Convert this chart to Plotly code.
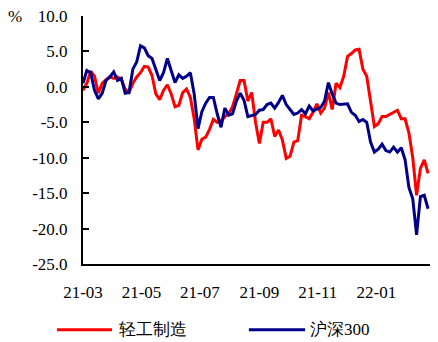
import plotly.graph_objects as go

dates = [
    "2021-03-01","2021-03-05","2021-03-09","2021-03-13","2021-03-17","2021-03-21","2021-03-25","2021-03-29",
    "2021-04-02","2021-04-06","2021-04-10","2021-04-14","2021-04-18","2021-04-22","2021-04-26","2021-04-30",
    "2021-05-04","2021-05-08","2021-05-12","2021-05-16","2021-05-20","2021-05-24","2021-05-28",
    "2021-06-01","2021-06-05","2021-06-09","2021-06-13","2021-06-17","2021-06-21","2021-06-25","2021-06-29",
    "2021-07-03","2021-07-07","2021-07-11","2021-07-15","2021-07-19","2021-07-23","2021-07-27","2021-07-31",
    "2021-08-04","2021-08-08","2021-08-12","2021-08-16","2021-08-20","2021-08-24","2021-08-28",
    "2021-09-01","2021-09-05","2021-09-09","2021-09-13","2021-09-17","2021-09-21","2021-09-25","2021-09-29",
    "2021-10-03","2021-10-07","2021-10-11","2021-10-15","2021-10-19","2021-10-23","2021-10-27","2021-10-31",
    "2021-11-04","2021-11-08","2021-11-12","2021-11-16","2021-11-20","2021-11-24","2021-11-28",
    "2021-12-02","2021-12-06","2021-12-10","2021-12-14","2021-12-18","2021-12-22","2021-12-26","2021-12-30",
    "2022-01-03","2022-01-07","2022-01-11","2022-01-15","2022-01-19","2022-01-23","2022-01-27","2022-01-31",
    "2022-02-04","2022-02-08","2022-02-12","2022-02-16","2022-02-20","2022-02-24",
]

light_industry = [
    -0.5, 0.5, 2.2, 1.5, -0.9, 0.5, 1.0, 1.4,
    1.2, 1.4, 1.0, -0.3, -0.8, 0.5, 1.4, 2.0,
    2.9, 2.8, 1.6, -1.0, -1.8, -0.5, 0.3,
    -1.0, -2.8, -2.6, -0.8, -0.3, -1.5, -4.5, -8.9,
    -7.4, -7.1, -6.0, -4.6, -5.0, -4.8, -4.2, -3.8,
    -2.8, -1.0, 0.9, 0.9, -2.0, -0.8, -5.0,
    -8.0, -5.0, -5.0, -4.5, -7.0, -6.1, -7.5, -10.1,
    -9.8, -7.8, -7.6, -4.0, -4.2, -4.5, -3.6, -2.4,
    -3.7, -3.0, -0.8, -3.2, 0.5, -0.1, 1.5,
    4.3, 4.7, 5.2, 5.3, 2.5, 1.5, -2.0, -5.6,
    -5.2, -4.2, -4.2, -3.9, -3.5, -3.3, -4.5, -4.5,
    -6.5, -10.0, -15.3, -11.5, -10.3, -12.2,
]

csi300 = [
    0.5, 2.3, 2.0, -0.5, -1.7, -0.9, 0.9, 1.4,
    2.1, 0.9, 1.2, -0.9, -0.8, 2.5, 3.5, 5.8,
    5.5, 4.4, 4.0, 2.5, 0.9, 2.0, 4.0,
    2.3, 0.6, 1.7, 1.2, 1.5, 2.0, -1.0, -5.9,
    -3.5, -2.3, -1.5, -1.5, -3.8, -5.7, -3.0, -4.0,
    -3.8, -2.0, -0.9, -1.9, -4.2, -4.1, -3.9,
    -3.3, -3.2, -2.5, -2.3, -3.0, -2.2, -1.2, -2.5,
    -3.2, -3.9, -3.7, -3.2, -3.8, -2.7, -3.4, -3.2,
    -2.9, -2.0, 0.6, -1.0, -2.3, -2.5, -2.5,
    -2.4, -3.6, -4.0, -4.9, -4.6, -5.0, -7.8, -9.2,
    -8.8, -8.1, -9.0, -9.2, -8.5, -9.2, -8.6, -10.3,
    -14.2, -15.8, -20.9, -15.5, -15.3, -17.2,
]

series_names = ["轻工制造", "沪深300"]
x_tick_dates = ["2021-03-01", "2021-05-01", "2021-07-01", "2021-09-01", "2021-11-01", "2022-01-01"]
x_tick_labels = ["21-03", "21-05", "21-07", "21-09", "21-11", "22-01"]
y_tick_vals = [-25, -20, -15, -10, -5, 0, 5, 10]
y_tick_labels = ["-25.0", "-20.0", "-15.0", "-10.0", "-5.0", "0.0", "5.0", "10.0"]

RED = "#FF0000"
NAVY = "#000088"
SERIF = "Liberation Serif"

fig = go.Figure()
fig.add_trace(go.Scatter(x=dates, y=light_industry, mode="lines", name=series_names[0],
                         line=dict(color=RED, width=3), showlegend=False))
fig.add_trace(go.Scatter(x=dates, y=csi300, mode="lines", name=series_names[1],
                         line=dict(color=NAVY, width=3), showlegend=False))

fig.update_layout(
    width=438, height=342,
    margin=dict(l=83, r=8, t=16, b=78),
    paper_bgcolor="white", plot_bgcolor="white",
    font=dict(family=SERIF, size=17, color="#000000"),
    xaxis=dict(
        type="date", range=["2021-03-01", "2022-02-26"],
        tickvals=x_tick_dates, ticktext=x_tick_labels,
        showgrid=False, zeroline=False,
        showline=True, linecolor="black", linewidth=2,
        ticks="", ticklabelstandoff=12,
        tickfont=dict(family=SERIF, size=17, color="#000000"),
    ),
    yaxis=dict(
        range=[-25, 10], tickvals=y_tick_vals, ticktext=y_tick_labels,
        showgrid=False, zeroline=False,
        showline=True, linecolor="black", linewidth=2,
        ticks="inside", ticklen=6, tickwidth=2, tickcolor="black",
        ticklabelstandoff=10,
        tickfont=dict(family=SERIF, size=17, color="#000000"),
    ),
)

# "%" unit label
fig.add_annotation(x=-0.195, y=1.0, xref="paper", yref="paper", text="%", showarrow=False,
                   font=dict(family=SERIF, size=17, color="#000000"), xanchor="center", yanchor="middle")

# manual legend
leg_y = -0.265
for (x0, x1, tx, color, name) in [(-0.075, 0.0836, 0.098, RED, series_names[0]),
                                  (0.478, 0.640, 0.648, NAVY, series_names[1])]:
    fig.add_shape(type="line", xref="paper", yref="paper", x0=x0, x1=x1, y0=leg_y, y1=leg_y,
                  line=dict(color=color, width=3))
    fig.add_annotation(x=tx, y=leg_y, xref="paper", yref="paper", text=name, showarrow=False,
                       xanchor="left", yanchor="middle",
                       font=dict(family=SERIF, size=17, color="#000000"))

fig.write_html("out.html")
